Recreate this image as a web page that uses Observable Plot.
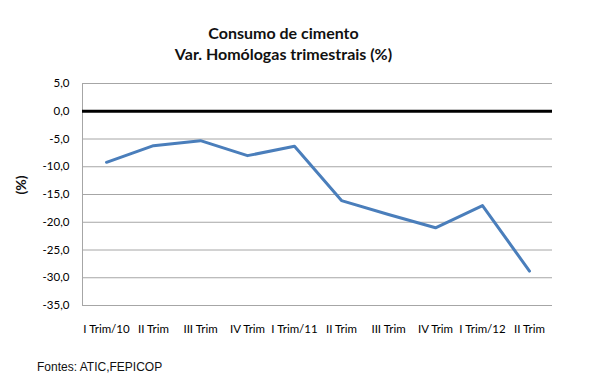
<!DOCTYPE html>
<html>
<head>
<meta charset="utf-8">
<script src="https://cdn.jsdelivr.net/npm/d3@7"></script>
<script src="https://cdn.jsdelivr.net/npm/@observablehq/plot@0.6"></script>
<style>
  body { margin: 0; background: #fff; }
  #wrap { position: relative; width: 610px; height: 388px; overflow: hidden; }
  #t1, #t2 { position: absolute; left: 0; width: 567px; text-align: center; font-family: Lato, sans-serif; font-weight: bold; font-size: 16px; line-height: 20px; color: #111; }
  #t1 { top: 23px; }
  #t2 { top: 44px; }
  #cap { position: absolute; left: 37px; top: 360px; font-family: "Liberation Sans", Arial, sans-serif; font-size: 12px; color: #111; }
  #chart { position: absolute; left: 0; top: 0; }
</style>
</head>
<body>
<div id="wrap">
  <div id="chart"></div>
  <div id="t1">Consumo de cimento</div>
  <div id="t2">Var. Homólogas trimestrais (%)</div>
  <div id="cap">Fontes: ATIC,FEPICOP</div>
</div>
<script>
const quarters = ["I Trim/10", "II Trim", "III Trim", "IV Trim", "I Trim/11", "II Trim ", "III Trim ", "IV Trim ", "I Trim/12", "II Trim  "];
const values = [-9.2, -6.2, -5.3, -8.0, -6.3, -16.1, -18.6, -21.0, -17.0, -28.8];
const yTicks = [5, 0, -5, -10, -15, -20, -25, -30, -35];

const data = quarters.map((q, i) => ({q, v: values[i]}));
const fmt = d => (d === 0 ? "0,0" : d.toFixed(1).replace(".", ","));

const chart = Plot.plot({
  width: 610,
  height: 388,
  marginTop: 83,
  marginBottom: 83,
  marginLeft: 82,
  marginRight: 58,
  style: {fontFamily: "Lato, sans-serif", fontSize: "11px", color: "#000", background: "transparent"},
  x: {type: "point", domain: quarters, padding: 0.5, label: null},
  y: {domain: [-35, 5], label: null},
  marks: [
    Plot.ruleY(yTicks.filter(d => d !== 0), {stroke: "#a6a6a6", strokeWidth: 1}),
    Plot.frame({anchor: "left", stroke: "#a6a6a6"}),
    Plot.ruleY([0], {stroke: "#000", strokeWidth: 3}),
    Plot.line(data, {x: "q", y: "v", stroke: "#4a7ebb", strokeWidth: 3}),
    Plot.axisY({ticks: yTicks, tickFormat: fmt, tickSize: 0, tickPadding: 13, fontSize: 11.5, label: null}),
    Plot.axisX({tickSize: 0, tickPadding: 19, fontSize: 11.5, tickFormat: d => d.trim(), label: null}),
    Plot.text(["(%)"], {frameAnchor: "left", dx: -61, rotate: -90, fontSize: 14, fontWeight: "bold", fill: "#111"})
  ]
});
document.getElementById("chart").appendChild(chart);
</script>
</body>
</html>
